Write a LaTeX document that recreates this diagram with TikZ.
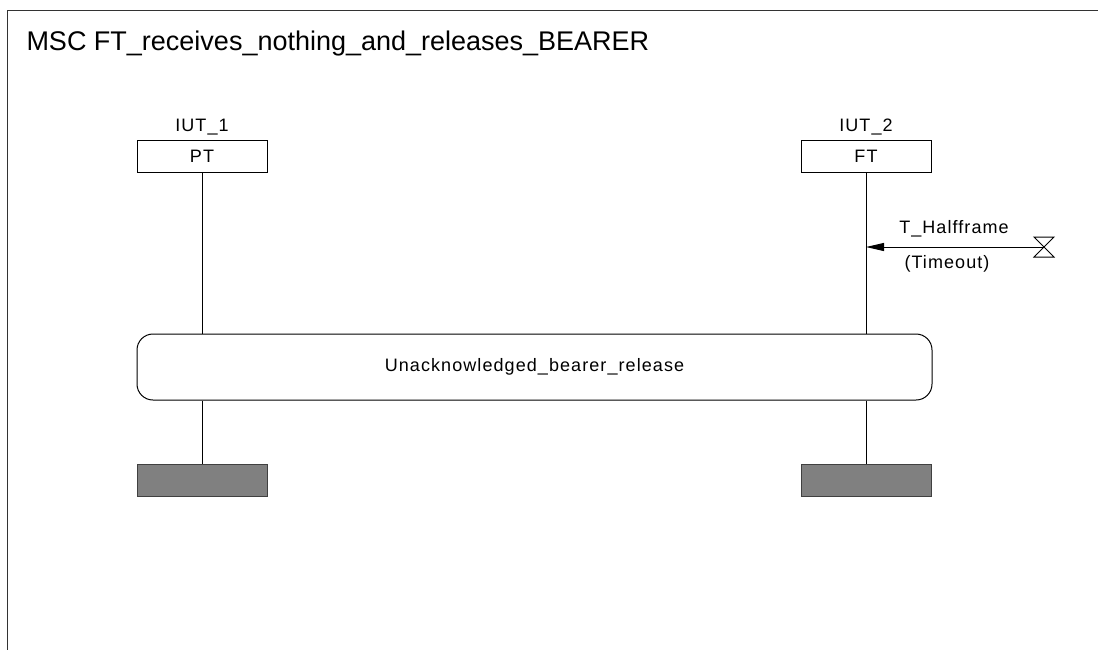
\documentclass[tikz,border=0pt]{standalone}
\usepackage{fontspec}
\setmainfont{Liberation Sans}
\newfontfamily\lblfont[LetterSpace=6]{Liberation Sans}
\usetikzlibrary{arrows.meta}
\tikzset{
  txt/.style={inner sep=0pt, font=\lblfont\fontsize{9}{11}\selectfont},
  inst/.style={txt, draw, minimum width=65pt, minimum height=16pt},
  stopbox/.style={draw=black!75, fill=black!50, minimum width=65pt, minimum height=16pt, inner sep=0pt},
  refbox/.style={txt, draw, rounded corners=8pt, minimum width=397.5pt, minimum height=33pt},
  msg/.style={-{Triangle[length=9pt,width=4pt]}}
}
\begin{document}
\begin{tikzpicture}[x=0.5pt, y=-0.5pt, line width=0.5pt]
  \useasboundingbox (0,0) rectangle (1098,650);
  % ramecek
  \draw[black!80] (1098,10.5) -- (7,10.5) -- (7,650);
  \node[anchor=base west, inner sep=0pt, font=\fontsize{13.5}{16}\selectfont] (title) at (26,50)
    {MSC FT\_receives\_nothing\_and\_releases\_BEARER};

  % instance
  \node[txt] (iut1) at (202,127) {IUT\_1};
  \node[inst] (pt) at (202,156) {PT};
  \node[txt] (iut2) at (866,127) {IUT\_2};
  \node[inst] (ft) at (866,156) {FT};

  % reference
  \node[refbox] (rel) at (534.5,367) {Unacknowledged\_bearer\_release};

  % konce instanci
  \node[stopbox] (ptend) at (202,480) {};
  \node[stopbox] (ftend) at (866,480) {};

  % zivotni cary
  \draw (pt) -- (rel.north -| pt);
  \draw (rel.south -| pt) -- (ptend);
  \draw (ft) -- (rel.north -| ft);
  \draw (rel.south -| ft) -- (ftend);

  % casovac
  \coordinate (tmr) at (1044,247);
  \draw (1034,237) -- (1054,237) -- (1034,257) -- (1054,257) -- cycle;
  \draw[msg] (tmr) -- (tmr -| ft);
  \node[txt] (tname) at (954,229) {T\_Halfframe};
  \node[txt] (tout) at (947,264) {(Timeout)};
\end{tikzpicture}
\end{document}
